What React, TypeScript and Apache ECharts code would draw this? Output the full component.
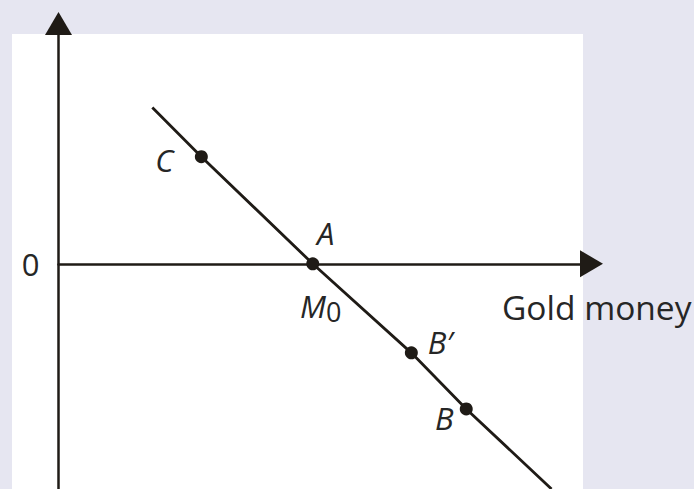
import React, { useEffect, useRef } from "react";
import * as echarts from "echarts";

// Marked points on the demand line (axis units)
const pointNames = ["C", "A", "B′", "B"];
const pointX = [2.68, 4.77, 6.62, 7.65];
const pointY = [2.14, 0, -1.78, -2.9];

// The straight line drawn through the marked points
const lineX = [1.76, 2.68, 4.77, 6.62, 7.65, 9.25];
const lineY = [3.12, 2.14, 0, -1.78, -2.9, -4.5];

// Axis ranges
const xRange = [0, 10];
const yRange = [-4.5, 4.8];
const yTickLabels = ["0"];
const xAxisTitle = "Gold money";
const m0Label = ["M", "0"];

const INK = "#1f1b16";
const TEXT = "#262626";
const FONT = "'Open Sans', 'Noto Sans', sans-serif";

const labelOffsets: Record<string, [number, number]> = {
  C: [-37, 3],
  A: [13, -31],
  "B′": [29, -11],
  B: [-22, 9],
};

export default function App() {
  const ref = useRef<HTMLDivElement>(null);
  useEffect(() => {
    if (!ref.current) return;
    const chart = echarts.init(ref.current, null, { renderer: "svg" });
    const arrowSize = [27, 23];
    chart.setOption({
      animation: false,
      backgroundColor: "#e6e6f1",
      grid: { left: 58.5, right: 102.5, top: 23.5, bottom: 0 },
      graphic: [
        {
          type: "rect",
          z: -1,
          silent: true,
          shape: { x: 12, y: 34, width: 571, height: 470 },
          style: { fill: "#ffffff" },
        },
        {
          type: "text",
          x: 502,
          y: 307,
          style: {
            text: xAxisTitle,
            font: `33.5px ${FONT}`,
            fill: TEXT,
            verticalAlign: "middle",
            align: "left",
          },
        },
      ],
      xAxis: {
        type: "value",
        min: xRange[0],
        max: xRange[1],
        axisLine: {
          onZero: true,
          symbol: ["none", "triangle"],
          symbolSize: arrowSize,
          lineStyle: { color: INK, width: 2.5 },
        },
        axisTick: { show: false },
        axisLabel: { show: false },
        splitLine: { show: false },
      },
      yAxis: {
        type: "value",
        min: yRange[0],
        max: yRange[1],
        axisLine: {
          onZero: true,
          symbol: ["none", "triangle"],
          symbolSize: arrowSize,
          lineStyle: { color: INK, width: 2.5 },
        },
        axisTick: { show: false },
        splitLine: { show: false },
        axisLabel: {
          margin: 19,
          fontSize: 31,
          fontFamily: FONT,
          color: TEXT,
          formatter: (v: number) => (v === 0 ? yTickLabels[0] : ""),
        },
      },
      series: [
        {
          type: "line",
          data: lineX.map((x, i) => [x, lineY[i]]),
          showSymbol: false,
          lineStyle: { color: INK, width: 2.8 },
          z: 3,
        },
        {
          type: "scatter",
          symbolSize: 13,
          itemStyle: { color: INK, opacity: 1 },
          z: 4,
          data: pointNames.map((n, i) => ({
            name: n,
            value: [pointX[i], pointY[i]],
            label: {
              show: true,
              position: "inside",
              offset: labelOffsets[n],
              formatter: n,
              fontSize: 31,
              fontStyle: "italic",
              fontFamily: FONT,
              color: TEXT,
            },
          })),
        },
        {
          type: "scatter",
          symbolSize: 0,
          itemStyle: { color: INK, opacity: 1 },
          z: 4,
          data: [
            {
              name: "M0",
              value: [pointX[1], pointY[1]],
              label: {
                show: true,
                position: "inside",
                offset: [8, 42],
                formatter: `{m|${m0Label[0]}}{s|${m0Label[1]}}`,
                rich: {
                  m: { fontSize: 31, fontStyle: "italic", fontFamily: FONT, color: TEXT },
                  s: { fontSize: 27, fontFamily: FONT, color: TEXT, padding: [12, 0, 0, 0] },
                },
              },
            },
          ],
        },
      ],
    });
    return () => chart.dispose();
  }, []);
  return (
    <div
      ref={ref}
      style={{ position: "absolute", left: 0, top: 0, width: 694, height: 489 }}
    />
  );
}
